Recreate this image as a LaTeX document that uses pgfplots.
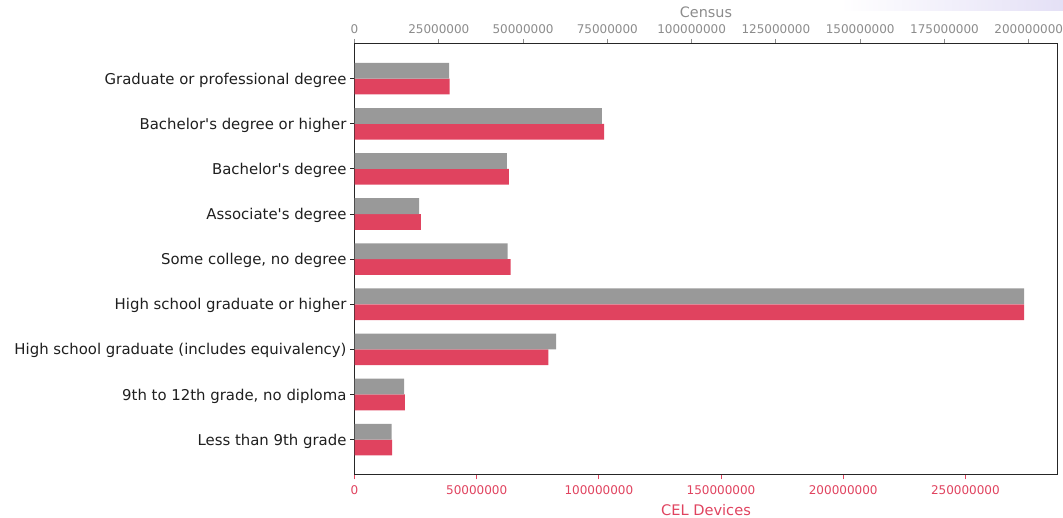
\documentclass[border=0pt]{standalone}
\usepackage{fontspec}
\setmainfont{DejaVu Sans}
\usepackage{pgfplots}
\pgfplotsset{compat=1.18}

\definecolor{celred}{HTML}{E0435F}
\definecolor{censusgrey}{HTML}{999999}
\definecolor{censustext}{HTML}{8C8C8C}
\definecolor{labeltext}{HTML}{1F1F1F}
\definecolor{haze}{HTML}{E4E0F6}

% Population 25+ by educational attainment; rows bottom to top
\pgfplotstableread{
y  census     cel
0  11000000   15400000
1  14700000   20600000
2  59800000   79300000
3  198600000  274000000
4  45400000   63900000
5  19200000   27200000
6  45200000   63200000
7  73400000   102200000
8  28100000   38900000
}\edudata

\begin{document}
\begin{tikzpicture}[x=1bp,y=1bp]
\path[use as bounding box] (0,0) rectangle (1063,518);
\shade[left color=white, right color=haze] (840,507) rectangle (1063,518);

\pgfplotsset{
  common/.style={
    at={(354.5bp,43bp)}, anchor=south west,
    width=703bp, height=431.7bp, scale only axis,
    ymin=-0.785, ymax=8.785,
    xmin=0,
    scaled x ticks=false,
    axis line style={line width=1bp, draw=black!85},
    major tick length=4.5bp,
    tick align=outside,
    tick style={line width=0.9bp},
    xticklabel style={font=\fontsize{12bp}{14bp}\selectfont},
  },
}

% CEL devices on the lower x axis, with the frame and the category labels
\begin{axis}[common,
  xmax=287700000,
  xtick={0,50000000,100000000,150000000,200000000,250000000},
  xticklabels={0,50000000,100000000,150000000,200000000,250000000},
  xtick pos=bottom, ytick pos=left,
  x tick style={celred},
  xticklabel style={text=celred, yshift=-3bp},
  xlabel={CEL Devices},
  xlabel style={font=\fontsize{14.6bp}{16bp}\selectfont, text=celred, yshift=-2bp},
  ytick={0,...,8},
  yticklabels={Less than 9th grade,
    {9th to 12th grade, no diploma},
    High school graduate (includes equivalency),
    High school graduate or higher,
    {Some college, no degree},
    Associate\textquotesingle s degree,
    Bachelor\textquotesingle s degree,
    Bachelor\textquotesingle s degree or higher,
    Graduate or professional degree},
  yticklabel style={font=\fontsize{14.9bp}{16bp}\selectfont, text=labeltext, yshift=-1.5bp},
  y tick style={black!85},
]
\addplot[xbar, bar width=0.35, bar shift=-0.175, fill=celred, draw=none]
  table[x=cel, y=y] {\edudata};
\end{axis}

% Census counts on the upper x axis
\begin{axis}[common,
  xmax=208530000,
  axis x line*=top, axis y line=none,
  xtick={0,25000000,50000000,75000000,100000000,125000000,150000000,175000000,200000000},
  xticklabels={0,25000000,50000000,75000000,100000000,125000000,150000000,175000000,200000000},
  x tick style={censustext},
  xticklabel style={text=censustext, yshift=2bp},
  xlabel={Census},
  xlabel style={font=\fontsize{14.4bp}{16bp}\selectfont, text=censustext, yshift=-0.5bp},
]
\addplot[xbar, bar width=0.35, bar shift=0.175, fill=censusgrey, draw=none]
  table[x=census, y=y] {\edudata};
\end{axis}
\end{tikzpicture}
\end{document}
